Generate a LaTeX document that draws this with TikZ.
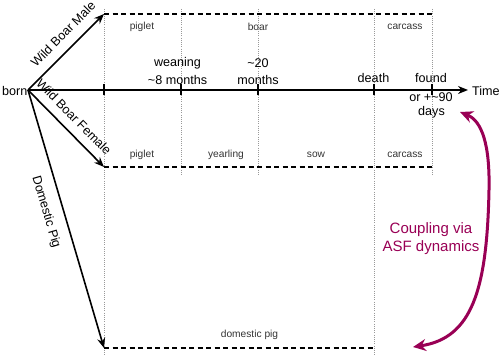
\documentclass[tikz,border=0pt]{standalone}
\usepackage{fontspec}
\setmainfont{Liberation Sans}
\usetikzlibrary{arrows.meta}
\definecolor{asf}{RGB}{153,0,85}
\begin{document}
\begin{tikzpicture}[x=1pt,y=-1pt,
  main/.style={font=\fontsize{12.6}{15}\selectfont, inner sep=0pt},
  small/.style={font=\fontsize{10.2}{12}\selectfont, text=black!80, inner sep=0pt},
  arr/.style={line width=1.6pt, -{Stealth[length=10pt,width=8pt]}},
  phase/.style={line width=1.5pt, dash pattern=on 5pt off 3.5pt},
  guide/.style={black!40, line width=0.6pt, dash pattern=on 1pt off 1.2pt},
  tickmark/.style={line width=2pt},
  couple/.style={asf, line width=3pt, {Stealth[length=13pt,width=12pt]}-{Stealth[length=13pt,width=12pt]}},
]
\useasboundingbox (0,0) rectangle (501,355);
% key points
\coordinate (born) at (28,90);
\coordinate (male) at (104,14);
\coordinate (female) at (104,167);
\coordinate (dom) at (104,348);
\coordinate (tend) at (468,90);
\coordinate (t0) at (104,90);
\coordinate (t1) at (181,90);
\coordinate (t2) at (258,90);
\coordinate (t3) at (374,90);
\coordinate (t4) at (432,90);
\coordinate (maleend) at (433,14);
\coordinate (femaleend) at (432,167);
\coordinate (domend) at (374,348);
% guide lines
\draw[guide] (104,9) -- (104,355);
\draw[guide] (181,9) -- (181,175);
\draw[guide] (258,9) -- (258,175);
\draw[guide] (374,9) -- (374,355);
\draw[guide] (432,9) -- (432,175);
% phases
\draw[phase] (male) -- (maleend);
\draw[phase] (female) -- (femaleend);
\draw[phase] (dom) -- (domend);
% axis
\draw[arr] (born) -- (tend);
\foreach \t in {t0,t1,t2,t3,t4}
  \draw[tickmark] ([yshift=-5.5pt]\t) -- ([yshift=6pt]\t);
% branches
\draw[arr] (born) -- (male);
\draw[arr] (born) -- (female);
\draw[arr] (born) -- (dom);
% labels
\node[main, anchor=east] (bornlbl) at (27.5,91) {born};
\node[main, anchor=west] (timelbl) at (472,91) {Time};
\node[main, rotate=45.4] (malelbl) at (63,34) {Wild Boar Male};
\node[main, rotate=-45.4] (femalelbl) at (74,117) {Wild Boar Female};
\node[main, rotate=-73.5] (domlbl) at (46,212) {Domestic Pig};
\node[main] (wean1) at (177.5,63) {weaning};
\node[main] (wean2) at (177.5,80) {\textasciitilde8 months};
\node[main] (m20a) at (258,63) {\textasciitilde20};
\node[main] (m20b) at (258,80) {months};
\node[main] (death) at (373.5,78) {death};
\node[main] (found) at (431,78) {found};
\node[main] (found2) at (431,97) {or +\textasciitilde90};
\node[main] (found3) at (431.5,112) {days};
% phase labels
\node[small] (p1) at (142,27) {piglet};
\node[small] (p2) at (258,27) {boar};
\node[small] (p3) at (405,27) {carcass};
\node[small] (q1) at (142,155) {piglet};
\node[small] (q2) at (226,155) {yearling};
\node[small] (q3) at (316,155) {sow};
\node[small] (q4) at (405,155) {carcass};
\node[small] (r1) at (249.5,335) {domestic pig};
% coupling
\coordinate (c1) at (460,112);
\coordinate (c2) at (413,347);
\draw[couple] (c1) .. controls (482,121) and (490,145) .. (489,190)
  .. controls (487,290) and (472,338) .. (c2);
\node[font=\fontsize{15}{18}\selectfont, text=asf, align=center, inner sep=0pt] (cpl) at (431,239) {Coupling via\\ASF dynamics};
\end{tikzpicture}
\end{document}
